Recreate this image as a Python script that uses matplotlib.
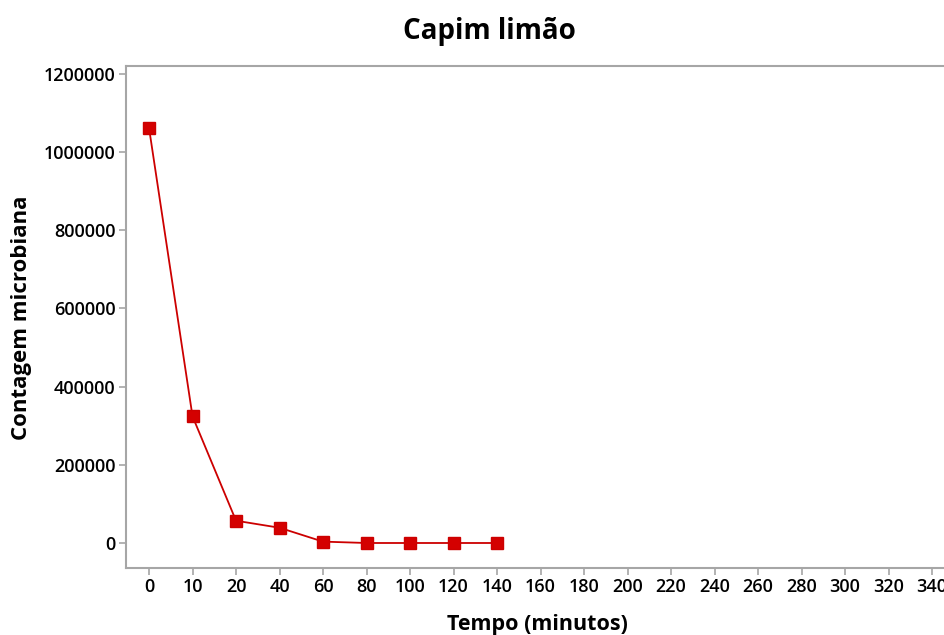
import matplotlib.pyplot as plt

# tempo categories on the x axis (equally spaced)
tempo = [0, 10, 20, 40, 60, 80, 100, 120, 140, 160, 180, 200, 220, 240, 260, 280, 300, 320, 340]
contagem = [1062000, 324000, 57000, 39000, 3500, 0, 0, 0, 0]

plt.rcParams['font.family'] = ['Open Sans', 'DejaVu Sans']

fig = plt.figure(figsize=(9.45, 6.35), dpi=100)
ax = fig.add_axes([0.1333, 0.1055, 0.876, 0.7906])

pos = list(range(len(tempo)))
ax.plot(pos[:len(contagem)], contagem, color='#cc0000', lw=1.3,
        marker='s', markersize=9, markerfacecolor='#d40000', markeredgecolor='#cc0000')

ax.set_xlim(-0.53, 18.5)
ax.set_ylim(-64000, 1220500)
ax.set_xticks(pos)
ax.set_xticklabels([str(t) for t in tempo])
ax.set_yticks([0, 200000, 400000, 600000, 800000, 1000000, 1200000])
ax.set_yticklabels(['0', '200000', '400000', '600000', '800000', '1000000', '1200000'])

for s in ax.spines.values():
    s.set_color('#a6a6a6')
    s.set_linewidth(1.5)
ax.tick_params(colors='#a6a6a6', width=1.2, length=5, labelcolor='black', labelsize=13, pad=2.5)
for lbl in ax.get_xticklabels() + ax.get_yticklabels():
    lbl.set_fontweight('semibold')

fig.text(0.518, 0.951, 'Capim limão', fontsize=20, fontweight='bold', ha='center', va='center')
fig.text(0.569, 0.017, 'Tempo (minutos)', fontsize=15.5, fontweight='bold', ha='center', va='center')
fig.text(0.023, 0.50, 'Contagem microbiana', fontsize=16, fontweight='bold', rotation=90, ha='center', va='center')

fig.savefig('out.png', dpi=100)
